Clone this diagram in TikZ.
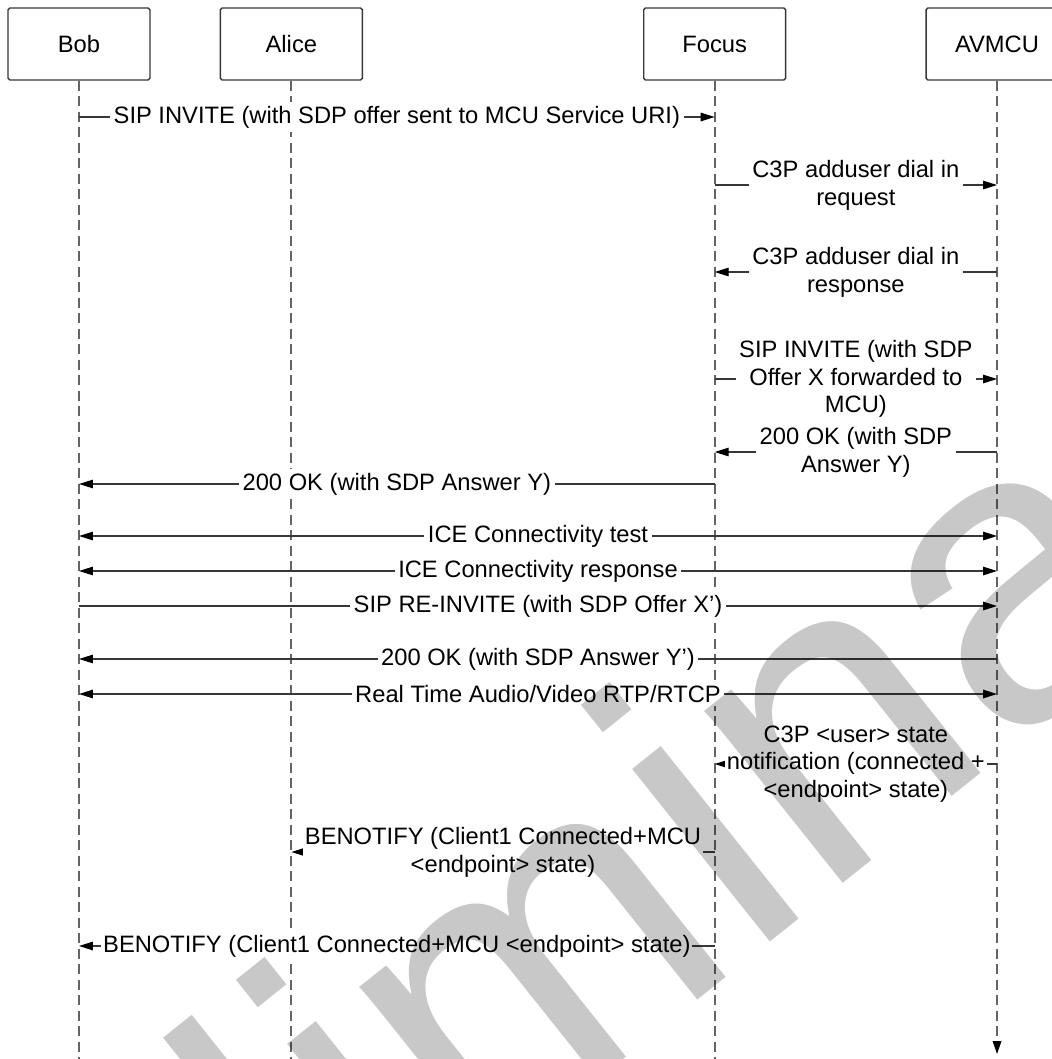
\documentclass[tikz,border=0pt]{standalone}
\usepackage{fontspec}
\setmainfont{Liberation Sans}
\usepackage{tikz}
\usetikzlibrary{positioning,arrows.meta,calc}
\definecolor{wmgray}{RGB}{200,200,200}
\definecolor{linegray}{RGB}{55,55,55}
\definecolor{lifegray}{RGB}{100,100,100}

\begin{document}
\begin{tikzpicture}[x=0.02cm, y=-0.02cm,
  font=\fontsize{13.5}{15.8}\selectfont,
  actor/.style={draw=linegray, line width=0.8pt, rounded corners=1pt, minimum width=2.84cm, minimum height=1.44cm, inner sep=0pt},
  life/.style={draw=lifegray, line width=1pt, dash pattern=on 0.2cm off 0.11cm},
  msg/.style={draw=linegray, line width=0.75pt},
  arr/.style={msg, -{Triangle[length=0.28cm, width=0.17cm, color=black]}},
  both/.style={msg, {Triangle[length=0.28cm, width=0.17cm, color=black]}-{Triangle[length=0.28cm, width=0.17cm, color=black]}},
  lbl/.style={fill=white, align=center, inner sep=2pt, text=black},
  wmark/.style={text=wmgray, inner sep=0pt, font=\fontsize{238}{238}\selectfont}]

\useasboundingbox (0,0) rectangle (1052,1059);

% participants
\node[actor] (bob) at (79,44) {Bob};
\node[actor, right=1.38cm of bob] (alice) {Alice};
\node[actor, right=5.6cm of alice] (focus) {Focus};
\node[actor, right=2.78cm of focus] (avmcu) {AVMCU};

% lifelines
\coordinate (bottom) at (0,1059);
\coordinate (avend) at (0,1054);
\draw[life] (bob.south) -- (bob.south |- bottom);
\draw[life] (alice.south) -- (alice.south |- bottom);
\draw[life] (focus.south) -- (focus.south |- bottom);
\draw[life, -{Triangle[length=0.26cm, width=0.17cm, color=black]}] (avmcu.south) -- (avmcu.south |- avend);

% message rows
\coordinate (r1) at (0,117);
\coordinate (r2) at (0,185);
\coordinate (r3) at (0,272);
\coordinate (r4) at (0,379);
\coordinate (r5) at (0,452);
\coordinate (r6) at (0,484);
\coordinate (r7) at (0,536);
\coordinate (r8) at (0,571);
\coordinate (r9) at (0,606);
\coordinate (r10) at (0,659);
\coordinate (r11) at (0,694);
\coordinate (r12) at (0,764);
\coordinate (r13) at (0,852);
\coordinate (r14) at (0,946);

\draw[arr] (bob |- r1) -- (focus |- r1) node[lbl, midway] {SIP INVITE (with SDP offer sent to MCU Service URI)};
\draw[arr] (focus |- r2) -- (avmcu |- r2) node[lbl, midway] {C3P adduser dial in\\request};
\draw[arr] (avmcu |- r3) -- (focus |- r3) node[lbl, midway] {C3P adduser dial in\\response};
\draw[arr] (focus |- r4) -- (avmcu |- r4) node[lbl, midway] {SIP INVITE (with SDP\\Offer X forwarded to\\MCU)};
\draw[arr] (avmcu |- r5) -- (focus |- r5) node[lbl, midway] {200 OK (with SDP\\Answer Y)};
\draw[arr] (focus |- r6) -- (bob |- r6) node[lbl, midway] {200 OK (with SDP Answer Y)};
\draw[both] (bob |- r7) -- (avmcu |- r7) node[lbl, midway] {ICE Connectivity test};
\draw[both] (bob |- r8) -- (avmcu |- r8) node[lbl, midway] {ICE Connectivity response};
\draw[arr] (bob |- r9) -- (avmcu |- r9) node[lbl, midway] {SIP RE-INVITE (with SDP Offer X')};
\draw[arr] (avmcu |- r10) -- (bob |- r10) node[lbl, midway] {200 OK (with SDP Answer Y')};
\draw[both] (bob |- r11) -- (avmcu |- r11) node[lbl, midway] {Real Time Audio/Video RTP/RTCP};
\draw[arr] (avmcu |- r12) -- (focus |- r12) node[lbl, midway, inner sep=1pt] {C3P <user> state\\notification (connected +\\<endpoint> state)};
\draw[arr] (focus |- r13) -- (alice |- r13) node[lbl, midway, inner sep=1pt] {BENOTIFY (Client1 Connected+MCU\\<endpoint> state)};
\draw[arr] (focus |- r14) -- (bob |- r14) node[lbl, midway, inner sep=1pt] {BENOTIFY (Client1 Connected+MCU <endpoint> state)};

% watermark
\begin{scope}[blend mode=multiply]
\clip (0,0) rectangle (1052,1059);
\node[wmark, anchor=base west, rotate=38.6] (wm) at (-178,1699) {Preliminary};
\end{scope}
\end{tikzpicture}
\end{document}
